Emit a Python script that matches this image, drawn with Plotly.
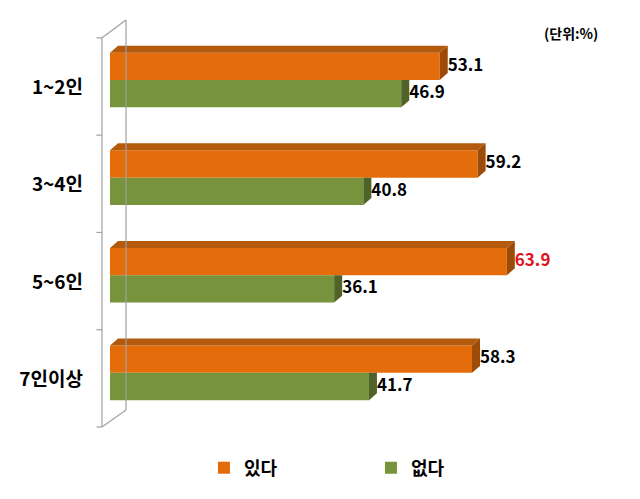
import plotly.graph_objects as go

categories = ["1~2인", "3~4인", "5~6인", "7인이상"]
yes_vals = [53.1, 59.2, 63.9, 58.3]
no_vals = [46.9, 40.8, 36.1, 41.7]
series_names = ["있다", "없다"]
highlight_value = 63.9

FONT = "Noto Sans CJK KR"
ORANGE = "#E46C0A"
ORANGE_TOP = "#B45A0C"
ORANGE_SIDE = "#9C4B08"
GREEN = "#77933C"
GREEN_SIDE = "#4F6228"

# geometry (data units)
BAR_W = 0.28
OFF = 0.14
DX = 1.29   # depth in x units
DY = 0.071  # depth in category units

idx = list(range(len(categories)))
y_yes = [i - OFF for i in idx]
y_no = [i + OFF for i in idx]

fig = go.Figure()
fig.add_trace(go.Bar(name=series_names[0], y=y_yes, x=yes_vals, orientation="h",
                     width=BAR_W, marker=dict(color=ORANGE, line=dict(width=0)),
                     hoverinfo="skip"))
fig.add_trace(go.Bar(name=series_names[1], y=y_no, x=no_vals, orientation="h",
                     width=BAR_W, marker=dict(color=GREEN, line=dict(width=0)),
                     hoverinfo="skip"))

# 3D faces
for yc, v in zip(y_no, no_vals):
    top, bot = yc - BAR_W / 2, yc + BAR_W / 2
    fig.add_trace(go.Scatter(x=[v, v + DX, v + DX, v, v], y=[top, top, bot - DY, bot, top],
                             fill="toself", fillcolor=GREEN_SIDE, mode="lines",
                             line=dict(width=0), showlegend=False, hoverinfo="skip"))
for yc, v in zip(y_yes, yes_vals):
    top, bot = yc - BAR_W / 2, yc + BAR_W / 2
    fig.add_trace(go.Scatter(x=[0, DX, v + DX, v, 0], y=[top, top - DY, top - DY, top, top],
                             fill="toself", fillcolor=ORANGE_TOP, mode="lines",
                             line=dict(width=0), showlegend=False, hoverinfo="skip"))
    fig.add_trace(go.Scatter(x=[v, v + DX, v + DX, v, v], y=[top, top - DY, bot - DY, bot, top],
                             fill="toself", fillcolor=ORANGE_SIDE, mode="lines",
                             line=dict(width=0), showlegend=False, hoverinfo="skip"))

# value labels
for ys, vals in ((y_yes, yes_vals), (y_no, no_vals)):
    fig.add_trace(go.Scatter(
        x=[v + DX for v in vals], y=ys, mode="text",
        text=[f"{v:.1f}" for v in vals], textposition="middle right",
        textfont=dict(family=FONT, size=17, weight="bold",
                      color=["#E0121E" if v == highlight_value else "#000000" for v in vals]),
        showlegend=False, hoverinfo="skip", cliponaxis=False))

# wall lines
XF = -1.29
XB = 2.58
wall = dict(color="#A0A0A0", width=1.2)
shapes = [
    dict(type="line", xref="x", yref="y", x0=XF, x1=XF, y0=-0.432, y1=3.555, line=wall),
    dict(type="line", xref="x", yref="y", x0=XB, x1=XB, y0=-0.615, y1=3.38, line=wall),
    dict(type="line", xref="x", yref="y", x0=XF, x1=XB, y0=-0.432, y1=-0.615, line=wall),
    dict(type="line", xref="x", yref="y", x0=XF, x1=XB, y0=3.555, y1=3.38, line=wall),
]
for k in range(5):
    yy = -0.432 + k * (3.555 + 0.432) / 4
    shapes.append(dict(type="line", xref="x", yref="y", x0=XF - 0.9, x1=XF, y0=yy, y1=yy, line=wall))

fig.update_layout(
    width=640, height=499,
    margin=dict(l=90, r=20, t=15, b=59),
    paper_bgcolor="white", plot_bgcolor="white",
    barmode="overlay",
    shapes=shapes,
    xaxis=dict(range=[-3.22, 82.13], showgrid=False, zeroline=False, showticklabels=False,
               showline=False, fixedrange=True),
    yaxis=dict(range=[3.657, -0.666], showgrid=False, zeroline=False, showline=False,
               tickvals=[i + 0.07 for i in idx], ticktext=categories, ticks="",
               ticklabelstandoff=6,
               tickfont=dict(family=FONT, size=19, weight="bold", color="#000000")),
    legend=dict(orientation="h", x=0.215, xanchor="left", y=-0.03, yanchor="top",
                font=dict(family=FONT, size=18, weight="bold", color="#000000"),
                entrywidth=122, entrywidthmode="pixels", traceorder="normal"),
    annotations=[dict(text="(단위:%)", xref="paper", yref="paper", x=0.962, y=0.958,
                      xanchor="right", yanchor="middle", showarrow=False,
                      font=dict(family=FONT, size=14, weight="bold", color="#000000"))],
    showlegend=True,
)

fig.write_html("out.html")
